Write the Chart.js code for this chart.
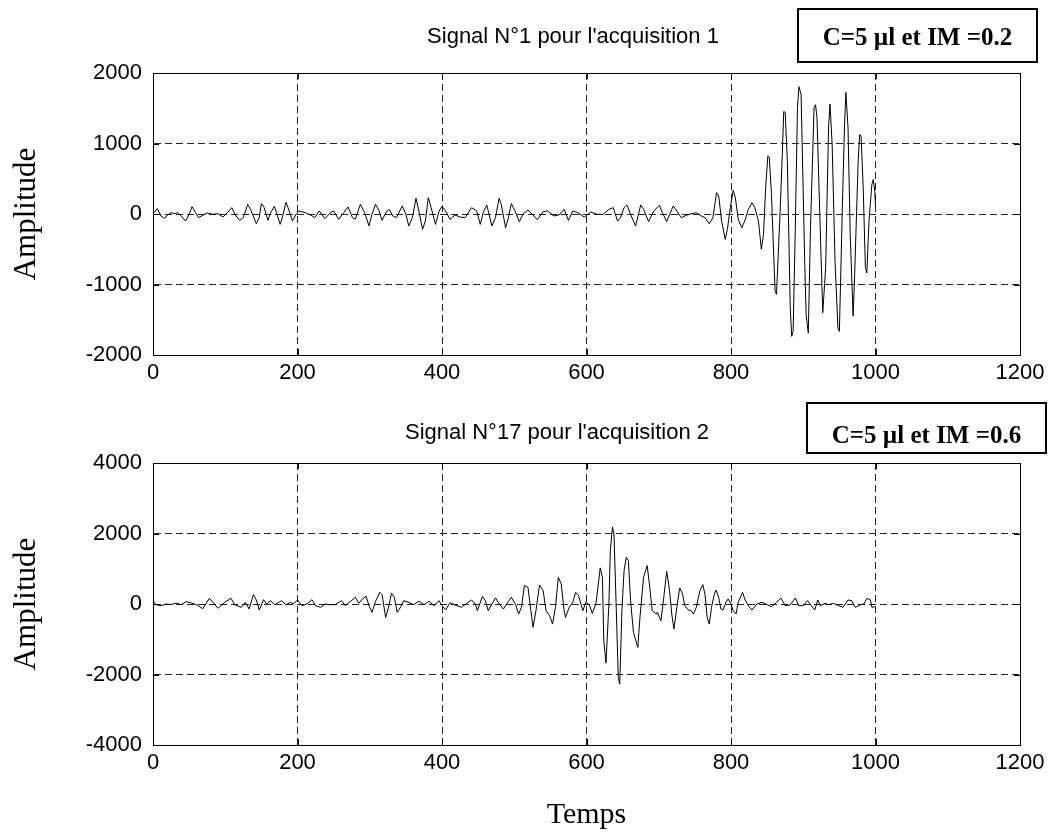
<!DOCTYPE html>
<html>
<head>
<meta charset="utf-8">
<script src="https://cdn.jsdelivr.net/npm/chart.js@4.4.1/dist/chart.umd.min.js"></script>
<style>
  body { margin: 0; background: #fff; width: 1054px; height: 832px; position: relative; overflow: hidden; }
  .layer { position: absolute; left: 0; top: 0; width: 1054px; height: 832px; }
</style>
</head>
<body>
<div class="layer"><canvas id="sig1"></canvas></div>
<div class="layer"><canvas id="sig2"></canvas></div>
<script>
// Signal N°1 (acquisition 1): time / amplitude
var t1 = [0, 6, 11, 16, 20, 25, 30, 34, 39, 45, 50, 54, 59, 63, 69, 75, 83, 90, 97, 103,
  109, 114, 120, 125, 131, 135, 143, 147, 150, 154, 159, 163, 168, 171, 176, 179, 184, 187, 193, 198,
  202, 211, 218, 224, 230, 238, 245, 250, 257, 264, 270, 276, 280, 287, 293, 299, 303, 308, 313, 317,
  323, 327, 332, 337, 345, 350, 354, 359, 364, 369, 373, 377, 381, 385, 391, 396, 400, 405, 411, 418,
  425, 432, 441, 448, 453, 457, 462, 469, 474, 479, 482, 488, 492, 496, 501, 507, 512, 519, 525, 532,
  540, 546, 555, 562, 569, 575, 581, 588, 597, 606, 615, 623, 631, 637, 643, 647, 652, 656, 661, 668,
  675, 679, 686, 693, 701, 704, 711, 720, 725, 731, 739, 746, 752, 759, 764, 770, 775, 780, 783, 787,
  792, 795, 799, 803, 806, 810, 815, 819, 824, 829, 833, 838, 842, 845, 848, 851, 853, 856, 861, 863,
  868, 871, 873, 875, 878, 882, 884, 886, 889, 892, 894, 897, 902, 904, 907, 910, 915, 917, 919, 924,
  927, 931, 935, 937, 940, 944, 948, 950, 954, 957, 959, 962, 965, 969, 971, 976, 978, 980, 983, 986,
  988, 991, 995, 997, 999, 1000];
var a1 = [5, 76, -28, -62, -14, 19, 5, 19, -28, -100, -5, 104, 19, -52, -19, 14, -5, 5, -43, 19,
  90, -14, -90, -52, 137, 66, -137, -52, 147, 90, -90, 19, 109, 19, -147, -52, 166, 90, -100, -5,
  43, 19, -14, -52, 43, -66, 14, 43, -76, 19, 100, -52, -76, 137, 19, -170, -5, 137, 43, -90,
  33, 66, -28, -52, 114, -5, -170, -52, 223, -5, -218, -100, 232, 90, -147, 40, 109, 43, -76, -14,
  -43, -52, 90, 43, -147, 19, 128, -170, -52, 223, 137, -194, -52, 147, 43, -109, -5, 57, -5, -80,
  33, 43, -28, -14, 66, -90, 43, 19, -43, 28, -5, -5, 66, 90, -100, -52, 90, 128, -5, -170,
  128, 66, -109, 43, 123, 43, -109, 114, 43, -52, -14, 5, 19, -28, -52, -137, -52, 303, 256, -100,
  -360, -218, 90, 336, 232, -76, -195, -100, 66, 160, 90, -100, -500, -290, 375, 825, 800, 280, -1095, -1140,
  40, 845, 1455, 1440, 755, -1330, -1735, -1665, -195, 1510, 1805, 1700, -670, -1430, -1690, -195, 1510, 1550, 1370, -385,
  -1400, -765, 1220, 1560, 990, -670, -1615, -1665, 40, 1220, 1725, 1220, -290, -1450, -905, 750, 1125, 1110, 375, -760,
  -835, -100, 420, 490, 325, 114];

// Signal N°17 (acquisition 2)
var t2 = [0, 4, 11, 18, 25, 32, 39, 46, 53, 60, 69, 78, 83, 90, 99, 108, 113, 122, 128, 133,
  139, 143, 147, 153, 157, 163, 168, 174, 178, 184, 190, 194, 200, 206, 213, 220, 225, 232, 238, 245,
  252, 261, 266, 273, 280, 285, 290, 295, 299, 303, 308, 314, 317, 322, 326, 330, 334, 338, 343, 347,
  354, 361, 368, 375, 382, 389, 396, 400, 405, 411, 418, 427, 434, 441, 446, 449, 456, 460, 464, 469,
  474, 480, 485, 492, 496, 502, 506, 510, 514, 519, 523, 526, 530, 535, 540, 544, 549, 553, 557, 561,
  565, 569, 571, 576, 581, 585, 589, 595, 599, 604, 608, 613, 619, 622, 624, 627, 631, 633, 636, 638,
  641, 644, 646, 649, 652, 655, 658, 661, 665, 671, 674, 679, 684, 687, 691, 697, 698, 703, 707, 711,
  715, 718, 721, 725, 729, 733, 736, 741, 745, 748, 752, 757, 761, 764, 767, 770, 773, 777, 779, 783,
  786, 789, 793, 796, 800, 803, 807, 810, 816, 819, 824, 829, 836, 843, 850, 856, 863, 869, 875, 882,
  889, 894, 900, 906, 911, 916, 920, 924, 930, 935, 942, 949, 955, 962, 967, 972, 979, 984, 988, 993,
  995, 999];
var a2 = [95, -19, -47, 0, -19, 28, -19, 66, 28, -19, -133, 161, 47, -123, 47, 161, -19, -95, 47, -142,
  265, 114, -171, 123, 0, 95, -19, 47, 95, -19, 47, 0, 114, -47, 0, 123, -47, -95, 0, -19,
  -19, 95, -47, 66, 190, 19, 142, 218, -47, -237, 76, 332, 266, -379, -95, 303, 190, -237, -76, 95,
  47, -19, 76, -19, 76, -47, 95, -47, -171, 38, -28, -95, 19, 114, 0, -190, 218, 95, -190, 0,
  171, -19, -142, 76, 190, -19, -284, -95, 521, 474, -190, -664, -190, 540, 379, -190, -332, -569, -95, 758,
  569, -190, -379, -95, 47, 332, 237, -190, 47, -19, -265, 0, 1024, 758, -1043, -1678, 0, 1517, 2180, 1990,
  0, -2085, -2275, -190, 948, 1327, 1232, 95, -805, -1232, -379, 758, 1090, 569, -190, -284, -237, -474, 190, 929,
  379, -284, -711, -95, 455, 284, -47, -171, -190, -284, -95, 379, 550, 275, -379, -569, -95, 284, 398, 190,
  -142, -171, 47, 142, 0, -190, -284, 47, 332, 142, -47, -171, 0, 47, -19, -76, 47, 171, -47, -28,
  171, -47, -47, 95, -47, -171, 114, -47, 19, -19, 19, -47, -95, 114, 95, -95, -19, 0, 161, 114,
  -95, -76];

var xTicks = { min: 0, max: 1200, step: 200 };
var tickFont = { family: 'Liberation Sans, Arial, sans-serif', size: 22 };

function toPoints(t, a) {
  return t.map(function(x, i) { return { x: x, y: a[i] }; });
}

// plain numbers, no thousands separator
function plain(v) { return String(v); }

// frame, inward ticks, titles and note boxes (MATLAB style)
function decorPlugin(o) {
  return {
    id: 'decor',
    afterDraw: function(chart) {
      var ctx = chart.ctx, ca = chart.chartArea;
      var xs = chart.scales.x, ys = chart.scales.y;
      ctx.save();
      ctx.strokeStyle = '#000';
      ctx.lineWidth = 1;
      ctx.setLineDash([]);
      ctx.strokeRect(ca.left + 0.5, ca.top + 0.5, ca.right - ca.left, ca.bottom - ca.top);
      ctx.beginPath();
      xs.ticks.forEach(function(tk) {
        var px = Math.round(xs.getPixelForValue(tk.value)) + 0.5;
        ctx.moveTo(px, ca.bottom); ctx.lineTo(px, ca.bottom - 6);
        ctx.moveTo(px, ca.top); ctx.lineTo(px, ca.top + 6);
      });
      ys.ticks.forEach(function(tk) {
        var py = Math.round(ys.getPixelForValue(tk.value)) + 0.5;
        ctx.moveTo(ca.left, py); ctx.lineTo(ca.left + 6, py);
        ctx.moveTo(ca.right, py); ctx.lineTo(ca.right - 6, py);
      });
      ctx.stroke();

      ctx.fillStyle = '#000';
      ctx.textAlign = 'center';
      ctx.textBaseline = 'alphabetic';
      ctx.font = '22px "Liberation Sans", Arial, sans-serif';
      ctx.fillText(o.title, o.titleX, o.titleY);

      ctx.lineWidth = 2;
      ctx.strokeRect(o.box[0], o.box[1], o.box[2], o.box[3]);
      ctx.font = 'bold 25px "Liberation Serif", "Times New Roman", serif';
      ctx.fillText(o.note, o.box[0] + o.box[2] / 2, o.noteY);

      ctx.font = '31px "Liberation Serif", "Times New Roman", serif';
      ctx.save();
      ctx.translate(27, (ca.top + ca.bottom) / 2);
      ctx.rotate(-Math.PI / 2);
      ctx.textBaseline = 'middle';
      ctx.fillText('Amplitude', 0, 0);
      ctx.restore();
      if (o.xlabel) {
        ctx.textBaseline = 'middle';
        ctx.font = '30px "Liberation Serif", "Times New Roman", serif';
        ctx.fillText(o.xlabel, (ca.left + ca.right) / 2, o.xlabelY);
      }
      ctx.restore();
    }
  };
}

function makeChart(id, t, a, yLim, padTop, padBottom, o) {
  return new Chart(document.getElementById(id), {
    type: 'line',
    data: {
      datasets: [{
        data: toPoints(t, a),
        borderColor: '#000',
        borderWidth: 1,
        pointRadius: 0,
        tension: 0,
        fill: false
      }]
    },
    options: {
      responsive: true,
      maintainAspectRatio: false,
      animation: false,
      layout: { padding: { left: 0, right: 34, top: padTop, bottom: padBottom } },
      plugins: { legend: { display: false }, tooltip: { enabled: false } },
      scales: {
        x: {
          type: 'linear',
          min: xTicks.min,
          max: xTicks.max,
          ticks: { stepSize: xTicks.step, color: '#000', font: tickFont, padding: 5, maxRotation: 0, callback: plain },
          grid: { color: '#222', lineWidth: 1, drawTicks: false },
          border: { color: '#000', width: 1, dash: [7, 4] },
          afterFit: function(s) { s.height = 32; }
        },
        y: {
          min: -yLim,
          max: yLim,
          ticks: { stepSize: yLim / 2, color: '#000', font: tickFont, padding: 11, callback: plain },
          grid: { color: '#222', lineWidth: 1, drawTicks: false },
          border: { color: '#000', width: 1, dash: [7, 4] },
          afterFit: function(s) { s.width = 153; }
        }
      }
    },
    plugins: [decorPlugin(o)]
  });
}

makeChart('sig1', t1, a1, 2000, 73, 832 - 355 - 32, {
  title: "Signal N°1 pour l'acquisition 1", titleX: 573, titleY: 43,
  note: 'C=5 µl et IM =0.2', box: [798, 9, 239, 53], noteY: 45
});
makeChart('sig2', t2, a2, 4000, 463, 832 - 745 - 32, {
  title: "Signal N°17 pour l'acquisition 2", titleX: 557, titleY: 439,
  note: 'C=5 µl et IM =0.6', box: [807, 403, 239, 50], noteY: 443,
  xlabel: 'Temps', xlabelY: 815
});
</script>
</body>
</html>
